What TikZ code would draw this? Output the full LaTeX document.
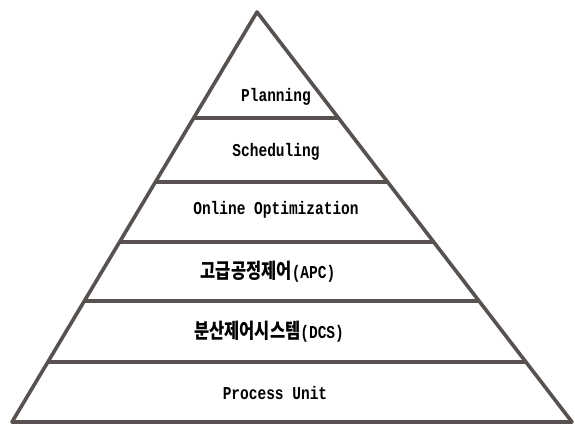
\documentclass[tikz,border=0pt]{standalone}
\usepackage{fontspec}
\usetikzlibrary{calc}
\newfontfamily\latmono{Liberation Mono}
\newfontfamily\krfont{Noto Sans CJK KR}
\definecolor{edge}{HTML}{575250}
\tikzset{
  tri/.style={draw=edge, line width=3.6pt, line join=round},
  tier/.style={draw=edge, line width=4.6pt},
  lbl/.style={inner sep=0pt, text=black, font=\latmono\bfseries\fontsize{14.5}{16}\selectfont},
}
\newcommand{\kr}[1]{{\krfont\bfseries\fontsize{16.5}{17}\selectfont #1}}
\newcommand{\tall}[1]{\scalebox{1}[1.25]{#1}}
\begin{document}
\begin{tikzpicture}[x=1pt,y=-1pt]
\useasboundingbox (0,0) rectangle (575,423);
\coordinate (A) at (257,12);
\coordinate (L) at (12,422);
\coordinate (R) at (572,422);
\draw[tri] (A) -- (L) -- (R) -- cycle;
\foreach \yy/\nm in {118/t1,182/t2,242/t3,301/t4,362/t5}{
  \pgfmathsetmacro{\tt}{(\yy-12)/410}
  \coordinate (\nm l) at ($(A)!\tt!(L)$);
  \coordinate (\nm r) at ($(A)!\tt!(R)$);
  \draw[tier] (\nm l) -- (\nm r);
}
\node[lbl] (planning) at (276,97) {\tall{Planning}};
\node[lbl] (scheduling) at (276,152) {\tall{Scheduling}};
\node[lbl] (online) at (276,210) {\tall{Online Optimization}};
\node[lbl] (apc) at (268,272) {\tall{\kr{고급공정제어}(APC)}};
\node[lbl] (dcs) at (269,332) {\tall{\kr{분산제어시스템}(DCS)}};
\node[lbl] (unit) at (275,393) {\tall{Process Unit}};
\end{tikzpicture}
\end{document}
